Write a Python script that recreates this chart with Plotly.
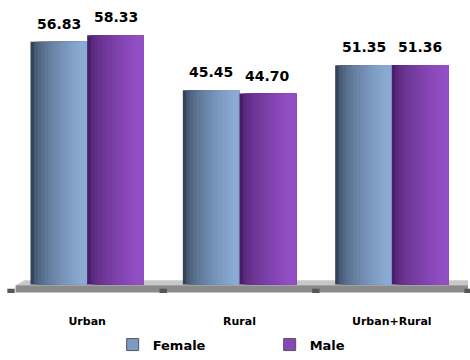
import plotly.graph_objects as go

categories = ["Urban", "Rural", "Urban+Rural"]
female = [56.83, 45.45, 51.35]
male = [58.33, 44.70, 51.36]
series_names = ["Female", "Male"]

# cylinder shading: dark left edge to light right edge
female_dark, female_light = (52, 68, 90), (138, 170, 212)
male_dark, male_light = (72, 30, 104), (146, 78, 196)

BAR_W = 0.372
N_STRIPS = 16
xpos = list(range(len(categories)))


def blend(c1, c2, t):
    return "rgb({},{},{})".format(*[round(a + (b - a) * t) for a, b in zip(c1, c2)])


def shade(i, n):
    t = i / (n - 1)
    # steeper darkening at the left edge of the cylinder
    return min(1.0, (t ** 0.55) * 1.05)


fig = go.Figure()

for s, (name, vals, dark, light, base_off) in enumerate([
    (series_names[0], female, female_dark, female_light, -BAR_W),
    (series_names[1], male, male_dark, male_light, 0.0),
]):
    sw = BAR_W / N_STRIPS
    # each strip runs to the bar's right edge; later strips cover earlier ones
    for i in range(N_STRIPS):
        fig.add_trace(go.Bar(
            x=xpos, y=vals,
            offset=base_off + i * sw, width=BAR_W - i * sw,
            marker=dict(color=blend(dark, light, shade(i, N_STRIPS)), line=dict(width=0)),
            showlegend=False, hoverinfo="skip",
        ))
    # legend entry
    fig.add_trace(go.Bar(
        x=[None], y=[None], name="<b>%s</b>" % name,
        marker=dict(color=blend(dark, light, 0.85), line=dict(color="#555555", width=1)),
        showlegend=True,
    ))
    for xi, v in zip(xpos, vals):
        fig.add_annotation(
            x=xi + base_off + BAR_W / 2, y=v, text="<b>%.2f</b>" % v,
            showarrow=False, yanchor="bottom", yshift=8,
            font=dict(family="DejaVu Sans", size=14, color="black"),
        )

# grey floor under the bars
fig.add_shape(type="path", xref="paper", yref="y",
              path="M 0.01,-0.2 L 0.03,1.0 L 1.0,1.0 L 1.0,-0.2 Z",
              fillcolor="#c8c8c8", line=dict(width=0), layer="below")
fig.add_shape(type="rect", xref="paper", yref="y", x0=0.01, x1=1.0, y0=-1.9, y1=-0.2,
              fillcolor="#8a8a8a", line=dict(width=0), layer="below")
for px in [0.0, 0.333, 0.667, 1.0]:
    fig.add_shape(type="rect", xref="paper", yref="y", x0=px - 0.008, x1=px + 0.008,
                  y0=-3.0, y1=-1.0, fillcolor="#555555", line=dict(width=0))

fig.update_layout(
    width=470, height=360,
    margin=dict(l=11, r=2, t=0, b=58),
    plot_bgcolor="white", paper_bgcolor="white",
    barmode="overlay",
    showlegend=True,
    legend=dict(orientation="h", x=0.566, xanchor="center", y=-0.125, yanchor="top",
                font=dict(family="DejaVu Sans", size=13, color="black"),
                entrywidth=112, entrywidthmode="pixels", traceorder="normal"),
    font=dict(family="DejaVu Sans", color="black"),
)
fig.update_xaxes(
    tickvals=xpos, ticktext=["<b>%s</b>" % c for c in categories],
    range=[-0.5, 2.5], showgrid=False, zeroline=False, showline=False,
    ticks="outside", ticklen=18, tickcolor="white",
    tickfont=dict(family="DejaVu Sans", size=11, color="black"),
)
fig.update_yaxes(range=[-2, 66.6], visible=False, showgrid=False)

fig.write_html("out.html")
